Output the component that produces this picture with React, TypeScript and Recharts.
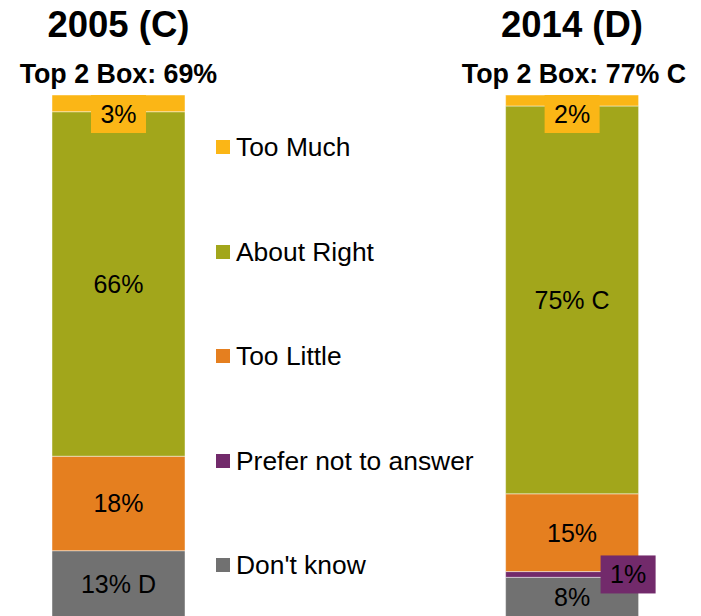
import { BarChart, Bar, XAxis, YAxis, Legend, LabelList } from "recharts";

// middle slot is left empty so the legend can sit between the two bars
const CATEGORIES = ["2005 (C)", "", "2014 (D)"];
const SUBTITLES = ["Top 2 Box: 69%", "", "Top 2 Box: 77% C"];

const TOO_MUCH = [3.2, null, 2.1];
const ABOUT_RIGHT = [66.0, null, 74.3];
const TOO_LITTLE = [18.1, null, 14.9];
const PREFER_NOT = [0, null, 1.1];
const DONT_KNOW = [12.7, null, 7.6];

const TOO_MUCH_LABELS = ["3%", "", "2%"];
const ABOUT_RIGHT_LABELS = ["66%", "", "75% C"];
const TOO_LITTLE_LABELS = ["18%", "", "15%"];
const PREFER_NOT_LABELS = ["", "", "1%"];
const DONT_KNOW_LABELS = ["13% D", "", "8%"];

const SERIES = [
  { key: "tooMuch", name: "Too Much", color: "#FBB616" },
  { key: "aboutRight", name: "About Right", color: "#A2A61B" },
  { key: "tooLittle", name: "Too Little", color: "#E57F1F" },
  { key: "preferNot", name: "Prefer not to answer", color: "#722A6B" },
  { key: "dontKnow", name: "Don't know", color: "#717171" },
];

const data = CATEGORIES.map((cat, i) => ({
  cat,
  tooMuch: TOO_MUCH[i],
  aboutRight: ABOUT_RIGHT[i],
  tooLittle: TOO_LITTLE[i],
  preferNot: PREFER_NOT[i],
  dontKnow: DONT_KNOW[i],
  tooMuchLabel: TOO_MUCH_LABELS[i],
  aboutRightLabel: ABOUT_RIGHT_LABELS[i],
  tooLittleLabel: TOO_LITTLE_LABELS[i],
  preferNotLabel: PREFER_NOT_LABELS[i],
  dontKnowLabel: DONT_KNOW_LABELS[i],
}));

const FONT = "'Liberation Sans', Arial, sans-serif";

const box = (p: any) => {
  const vb = p.viewBox ?? p;
  return { x: Number(vb.x), y: Number(vb.y), w: Number(vb.width), h: Number(vb.height) };
};

const CenterLabel = (p: any) => {
  if (!p.value) return null;
  const { x, y, w, h } = box(p);
  return (
    <text x={x + w / 2} y={y + h / 2} textAnchor="middle" dominantBaseline="central" fontSize={25} fontFamily={FONT} fill="#000">
      {p.value}
    </text>
  );
};

// small segment: label in a coloured box hanging from the top of the bar
const TopBoxLabel = (p: any) => {
  if (!p.value) return null;
  const { x, y, w } = box(p);
  const cx = x + w / 2;
  return (
    <g>
      <rect x={cx - 27.5} y={y} width={55} height={38} fill="#FBB616" />
      <text x={cx} y={y + 19} textAnchor="middle" dominantBaseline="central" fontSize={25} fontFamily={FONT} fill="#000">
        {p.value}
      </text>
    </g>
  );
};

// tiny segment: label in a box pushed out past the right edge
const SideBoxLabel = (p: any) => {
  if (!p.value) return null;
  const { x, y, w, h } = box(p);
  const left = x + w - 38;
  const cy = y + h / 2;
  return (
    <g>
      <rect x={left} y={cy - 19} width={55} height={38} fill="#722A6B" />
      <text x={left + 27.5} y={cy} textAnchor="middle" dominantBaseline="central" fontSize={25} fontFamily={FONT} fill="#000">
        {p.value}
      </text>
    </g>
  );
};

const TitleTick = (p: any) => {
  const { x, payload, index } = p;
  return (
    <g>
      <text x={x} y={37} textAnchor="middle" fontSize={36.5} fontWeight="bold" fontFamily={FONT} fill="#000">
        {payload.value}
      </text>
      <text x={x + (index === 2 ? 2 : 0)} y={83} textAnchor="middle" fontSize={26.8} fontWeight="bold" fontFamily={FONT} fill="#000">
        {SUBTITLES[index]}
      </text>
    </g>
  );
};

const renderLegend = () => (
  <div style={{ fontFamily: FONT, fontSize: 26.4, color: "#000" }}>
    {SERIES.map((s) => (
      <div key={s.key} style={{ display: "flex", alignItems: "center", height: 30, marginBottom: 74.5 }}>
        <span style={{ width: 14, height: 14, backgroundColor: s.color, marginRight: 6, flexShrink: 0 }} />
        <span style={{ lineHeight: "30px", whiteSpace: "nowrap" }}>{s.name}</span>
      </div>
    ))}
  </div>
);

export default function App() {
  const stroke = { stroke: "#ffffff", strokeOpacity: 0.45, strokeWidth: 1 };
  return (
    <div style={{ position: "absolute", left: 0, top: 0, width: 701, height: 616, overflow: "hidden", background: "#fff" }}>
      <BarChart width={701} height={625} data={data} margin={{ top: 0, right: 15.6, left: 5, bottom: 8 }}>
        <XAxis
          dataKey="cat"
          orientation="top"
          height={95}
          axisLine={false}
          tickLine={false}
          interval={0}
          tick={<TitleTick />}
        />
        <YAxis hide domain={[0, 100]} />
        <Legend
          layout="vertical"
          align="center"
          verticalAlign="middle"
          content={renderLegend}
          wrapperStyle={{ left: 216, top: 132, width: 280 }}
        />
        <Bar dataKey="dontKnow" stackId="a" fill="#717171" barSize={133} isAnimationActive={false} {...stroke}>
          <LabelList dataKey="dontKnowLabel" content={<CenterLabel />} />
        </Bar>
        <Bar dataKey="preferNot" stackId="a" fill="#722A6B" barSize={133} isAnimationActive={false} {...stroke}>
          <LabelList dataKey="preferNotLabel" content={<SideBoxLabel />} />
        </Bar>
        <Bar dataKey="tooLittle" stackId="a" fill="#E57F1F" barSize={133} isAnimationActive={false} {...stroke}>
          <LabelList dataKey="tooLittleLabel" content={<CenterLabel />} />
        </Bar>
        <Bar dataKey="aboutRight" stackId="a" fill="#A2A61B" barSize={133} isAnimationActive={false} {...stroke}>
          <LabelList dataKey="aboutRightLabel" content={<CenterLabel />} />
        </Bar>
        <Bar dataKey="tooMuch" stackId="a" fill="#FBB616" barSize={133} isAnimationActive={false} {...stroke}>
          <LabelList dataKey="tooMuchLabel" content={<TopBoxLabel />} />
        </Bar>
      </BarChart>
    </div>
  );
}
